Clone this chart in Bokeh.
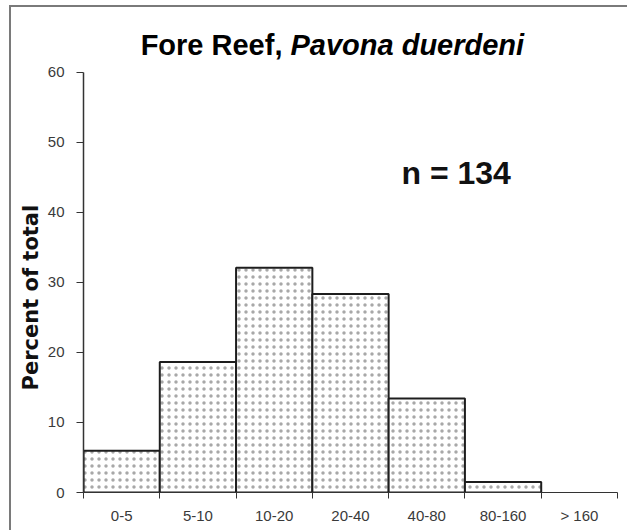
import math
from bokeh.plotting import figure
from bokeh.layouts import column
from bokeh.models import FixedTicker, Label, Title, ColumnDataSource
from bokeh.embed import file_html
from bokeh.resources import INLINE

# ---- data ----
categories = ["0-5", "5-10", "10-20", "20-40", "40-80", "80-160", "> 160"]
percent = [5.97, 18.66, 32.09, 28.36, 13.43, 1.49, 0.0]
y_ticks = [0, 10, 20, 30, 40, 50, 60]
title_plain = "Fore Reef,"
title_italic = "Pavona duerdeni"
n_text = "n = 134"
y_label = "Percent of total"

FONT = "Liberation Sans"

idx = list(range(len(categories)))
bars = [i for i in idx if percent[i] > 0]
bar_src = ColumnDataSource(dict(
    left=[i for i in bars],
    right=[i + 1 for i in bars],
    top=[percent[i] for i in bars],
))
centers = [i + 0.5 for i in idx]
bounds = [float(i) for i in range(len(categories) + 1)]

# frame extends above the 60 tick so the title can live inside it
p = figure(width=616, height=523,
           x_range=(0, len(categories)), y_range=(y_ticks[0], 68.57),
           output_backend="svg", toolbar_location=None,
           min_border_left=72, min_border_right=10,
           min_border_top=5, min_border_bottom=38)
p.outline_line_color = None
p.grid.visible = False
p.background_fill_color = None
p.border_fill_color = None

p.quad(left="left", right="right", top="top", bottom=0, source=bar_src,
       fill_color="white", line_color="#1e1e1e", line_width=2,
       hatch_pattern="dot", hatch_color="#a8a8a8", hatch_scale=7, hatch_weight=1)

# y axis
ya = p.yaxis[0]
ya.bounds = (y_ticks[0], y_ticks[-1])
ya.ticker = FixedTicker(ticks=y_ticks, minor_ticks=[])
ya.axis_line_color = "#333333"
ya.axis_line_width = 1.5
ya.major_tick_line_color = "#333333"
ya.major_tick_out = 7
ya.major_tick_in = 0
ya.minor_tick_line_color = None
ya.major_label_standoff = 12
ya.major_label_text_font = FONT
ya.major_label_text_font_size = "15px"
ya.major_label_text_color = "#3a3a3a"

# x axis
xa = p.xaxis[0]
xa.ticker = FixedTicker(ticks=centers, minor_ticks=bounds)
xa.major_label_overrides = {c: t for c, t in zip(centers, categories)}
xa.axis_line_color = "#333333"
xa.axis_line_width = 1.2
xa.major_tick_line_color = None
xa.major_tick_out = 0
xa.major_tick_in = 0
xa.minor_tick_line_color = "#333333"
xa.minor_tick_out = 6
xa.minor_tick_in = 0
xa.major_label_standoff = 8
xa.major_label_text_font = FONT
xa.major_label_text_font_size = "15px"
xa.major_label_text_color = "#3a3a3a"

# y axis label as a side title
p.add_layout(Title(text=y_label, align="left", offset=102, standoff=4,
                   text_font="DejaVu Sans", text_font_size="21px",
                   text_font_style="bold", text_color="#111111"), "left")

# title in two styles (inside the frame, above the 60 tick)
p.add_layout(Label(x=2.608, y=63.9, text=title_plain, text_align="right",
                   text_baseline="alphabetic", text_font=FONT,
                   text_font_size="29px", text_font_style="bold", text_color="black"))
p.add_layout(Label(x=2.713, y=63.9, text=title_italic, text_align="left",
                   text_baseline="alphabetic", text_font=FONT,
                   text_font_size="29px", text_font_style="bold italic", text_color="black"))

# n label
p.add_layout(Label(x=4.168, y=45.7, text=n_text, text_align="left",
                   text_baseline="alphabetic", text_font=FONT,
                   text_font_size="32px", text_font_style="bold", text_color="#111111"))

layout = column(p, styles={"margin-left": "9px", "margin-top": "5px",
                           "border-left": "2px solid #7a7a7a",
                           "border-top": "2px solid #7a7a7a"})

open("out.html", "w").write(file_html(layout, INLINE))
